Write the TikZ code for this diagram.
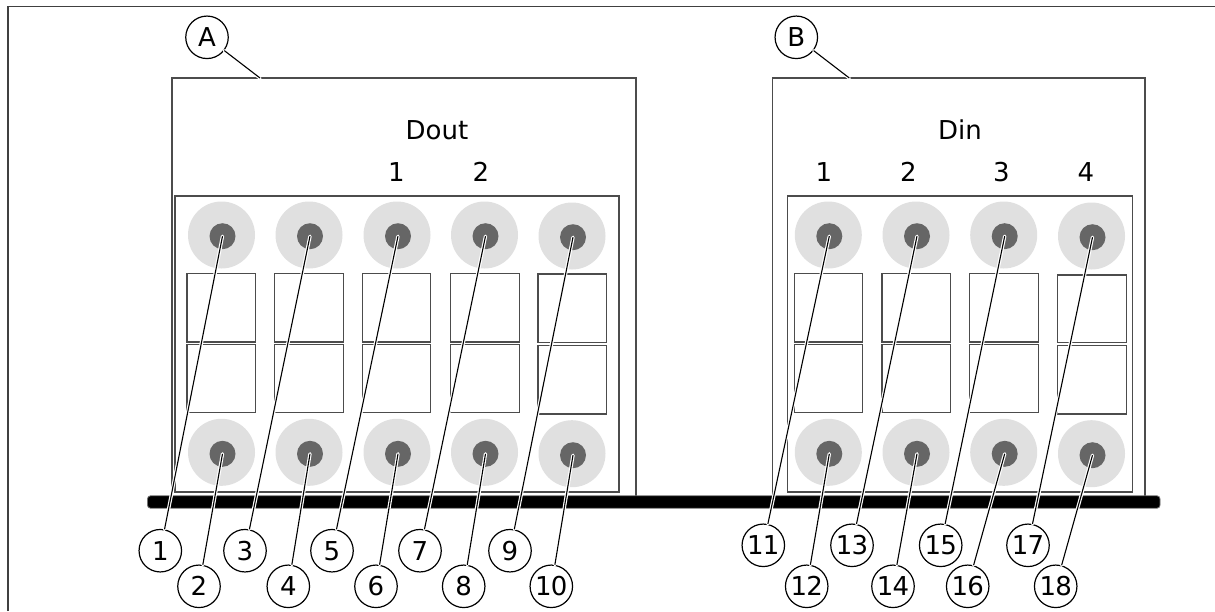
\documentclass[tikz,border=0pt]{standalone}
\usepackage{fontspec}
\setmainfont{DejaVu Sans}
\tikzset{
  frameline/.style={draw=black!75,line width=1.3pt},
  boxline/.style={draw=black!70,fill=white,line width=1.2pt},
  callout/.style={circle,draw=black,fill=white,line width=1.2pt,minimum size=42.5pt,inner sep=0pt,font=\fontsize{26}{26}\selectfont,text=black},
  twodigit/.style={callout,font=\fontsize{26}{26}\selectfont\addfontfeatures{LetterSpace=-3}},
  leader/.style={draw=black,line width=1.1pt,preaction={draw=white,line width=3.4pt,line cap=round}},
  lbl/.style={font=\fontsize{26}{26}\selectfont,text=black,inner sep=0pt},
  halo/.style={fill=black!12,draw=none},
  hub/.style={fill=black!60,draw=none}
}
\begin{document}
\begin{tikzpicture}[x=1pt,y=-1pt]
\useasboundingbox (0,0) rectangle (1215,611);
\fill[white] (0,0) rectangle (1215,611);
\draw[frameline] (8,611) -- (8,6.5) -- (1215,6.5);
% housings
\draw[boxline] (172,496) -- (172,78) -- (636,78) -- (636,496);
\draw[boxline] (772.3,496) -- (772.3,78) -- (1145,78) -- (1145,496);
% panels
\draw[boxline] (175,196) rectangle (619,492);
\draw[boxline] (787.3,196) rectangle (1132.7,492);
% mounting bar
\draw[fill=black,draw=black!55,line width=0.8pt,rounded corners=3pt] (147.5,495.8) rectangle (1160,508.2);
% terminals
\foreach \cx/\tt/\bb/\rl/\ra/\rb/\rc/\rd/\tid in {
  221.5/235/452.3/187/273.3/342/344.7/412.7/1,
  309/235/452.3/274.7/273.3/342/344.7/412.7/2,
  397/235/452.3/362.3/273.3/342/344.7/412.7/3,
  484.5/235/452.3/450.7/273.3/342/344.7/412.7/4,
  572/236/453.7/538/274/342.3/345.7/414/5,
  828.3/235/452.3/794.3/273.3/342/344.7/412.7/6,
  916/235/452.3/882/273.3/342/344.7/412.7/7,
  1003.7/235/452.3/969.7/273.3/342/344.7/412.7/8,
  1091.5/236/453.7/1057.7/275/342.5/345.7/414/9}{
  \draw[boxline] (\rl,\ra) rectangle ++(68.5,\rb-\ra);
  \draw[boxline] (\rl,\rc) rectangle ++(68.5,\rd-\rc);
  \fill[halo] (\cx,\tt) circle (33.5);
  \fill[hub] (\cx+1,\tt+1.2) circle (13);
  \fill[halo] (\cx,\bb) circle (33.5);
  \fill[hub] (\cx+1,\bb+1.5) circle (13);
  \coordinate (t\tid) at (\cx+1,\tt+1.2);
  \coordinate (b\tid) at (\cx+1,\bb+1.5);
}
% texts
\node[lbl] (dout) at (437,130) {Dout};
\node[lbl] (d1) at (396.5,172) {1};
\node[lbl] (d2) at (481,172) {2};
\node[lbl] (din) at (960,130) {Din};
\node[lbl] (i1) at (824,172) {1};
\node[lbl] (i2) at (908.5,172) {2};
\node[lbl] (i3) at (1001.5,172) {3};
\node[lbl] (i4) at (1086,172) {4};
% callouts
\node[callout] (A) at (207,37.3) {A};
\node[callout] (B) at (796.3,37.3) {B};
\coordinate (Ae) at (260,78);
\coordinate (Be) at (849.3,78);
\node[callout] (n1) at (160.3,550.7) {1};
\node[callout] (n2) at (199,586.3) {2};
\node[callout] (n3) at (245,550.7) {3};
\node[callout] (n4) at (288.3,586.3) {4};
\node[callout] (n5) at (332,550.7) {5};
\node[callout] (n6) at (376,586.3) {6};
\node[callout] (n7) at (420,550.7) {7};
\node[callout] (n8) at (463.7,586.3) {8};
\node[callout] (n9) at (510,550.7) {9};
\node[twodigit] (n10) at (551.3,586.3) {10};
\node[twodigit] (n11) at (763.3,545.3) {11};
\node[twodigit] (n12) at (806.7,586.3) {12};
\node[twodigit] (n13) at (852,545.3) {13};
\node[twodigit] (n14) at (893,586.3) {14};
\node[twodigit] (n15) at (940.7,545.3) {15};
\node[twodigit] (n16) at (967.7,586.3) {16};
\node[twodigit] (n17) at (1028,545.3) {17};
\node[twodigit] (n18) at (1055.7,586.3) {18};
% leaders
\draw[leader] (A) -- (Ae);
\draw[leader] (B) -- (Be);
\foreach \n/\p in {n1/t1,n2/b1,n3/t2,n4/b2,n5/t3,n6/b3,n7/t4,n8/b4,n9/t5,n10/b5,
  n11/t6,n12/b6,n13/t7,n14/b7,n15/t8,n16/b8,n17/t9,n18/b9}{
  \draw[leader] (\n) -- (\p);
}
\end{tikzpicture}
\end{document}
